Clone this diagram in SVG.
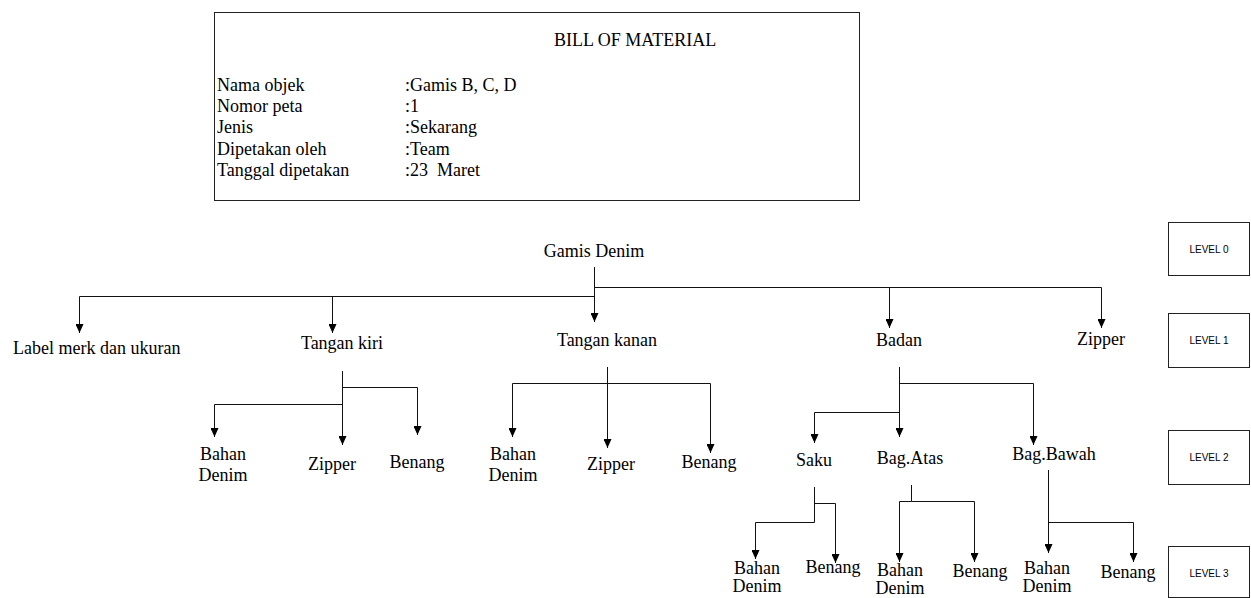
<svg xmlns="http://www.w3.org/2000/svg" width="1251" height="598" viewBox="0 0 1251 598">
<style>
text{font-family:"Liberation Serif","Times New Roman",serif;font-size:18px;fill:#000}
.c{text-anchor:middle}
.lv{font-family:"Liberation Sans",Arial,sans-serif;font-size:10px;text-anchor:middle}
.box{fill:#fff;stroke:#222;stroke-width:1}
.ln{fill:none;stroke:#111;stroke-width:1}
</style>
<defs>
<marker id="ah" markerUnits="userSpaceOnUse" markerWidth="8" markerHeight="9" refX="4" refY="9" orient="0" viewBox="0 0 8 9">
<path d="M0,0 L8,0 L4,9 z" fill="#000"/>
</marker>
</defs>
<rect width="1251" height="598" fill="#fff"/>

<g id="header">
<rect class="box" x="214.5" y="12.5" width="645" height="188"/>
<text x="554" y="46">BILL OF MATERIAL</text>
<text x="217" y="91">Nama objek</text>
<text x="405" y="91">:Gamis B, C, D</text>
<text x="217" y="112">Nomor peta</text>
<text x="405" y="112">:1</text>
<text x="217" y="133">Jenis</text>
<text x="405" y="133">:Sekarang</text>
<text x="217" y="155">Dipetakan oleh</text>
<text x="405" y="155">:Team</text>
<text x="217" y="176">Tanggal dipetakan</text>
<text x="405" y="176" xml:space="preserve">:23  Maret</text>
</g>

<g id="levels">
<g id="level0"><rect class="box" x="1168.5" y="222.5" width="81" height="53"/><text class="lv" x="1209" y="253">LEVEL 0</text></g>
<g id="level1"><rect class="box" x="1168.5" y="313.5" width="81" height="54"/><text class="lv" x="1209" y="344">LEVEL 1</text></g>
<g id="level2"><rect class="box" x="1168.5" y="430.5" width="81" height="54"/><text class="lv" x="1209" y="461">LEVEL 2</text></g>
<g id="level3"><rect class="box" x="1168.5" y="546.5" width="81" height="51"/><text class="lv" x="1209" y="577">LEVEL 3</text></g>
</g>

<g id="connectors">
<path class="ln" d="M594.5,267 V322" marker-end="url(#ah)"/>
<path class="ln" d="M594.5,296.5 H79.5 V333" marker-end="url(#ah)"/>
<path class="ln" d="M332.5,296.5 V333" marker-end="url(#ah)"/>
<path class="ln" d="M594.5,287.5 H1101.5 V328" marker-end="url(#ah)"/>
<path class="ln" d="M889.5,287.5 V328" marker-end="url(#ah)"/>

<path class="ln" d="M342.5,371 V445" marker-end="url(#ah)"/>
<path class="ln" d="M342.5,387.5 H417.5 V435" marker-end="url(#ah)"/>
<path class="ln" d="M342.5,404.5 H214.5 V437" marker-end="url(#ah)"/>

<path class="ln" d="M607.5,367 V448" marker-end="url(#ah)"/>
<path class="ln" d="M607.5,383.5 H512.5 V437" marker-end="url(#ah)"/>
<path class="ln" d="M607.5,383.5 H710.5 V453" marker-end="url(#ah)"/>

<path class="ln" d="M899.5,367 V437" marker-end="url(#ah)"/>
<path class="ln" d="M899.5,383.5 H1033.5 V445" marker-end="url(#ah)"/>
<path class="ln" d="M899.5,412.5 H814.5 V443" marker-end="url(#ah)"/>

<path class="ln" d="M814.5,487 V522.5 H755.5 V559" marker-end="url(#ah)"/>
<path class="ln" d="M814.5,503.5 H835.5 V563" marker-end="url(#ah)"/>

<path class="ln" d="M911.5,485 V501.5"/>
<path class="ln" d="M911.5,501.5 H899.5 V562" marker-end="url(#ah)"/>
<path class="ln" d="M911.5,501.5 H974.5 V562" marker-end="url(#ah)"/>

<path class="ln" d="M1048.5,470 V553" marker-end="url(#ah)"/>
<path class="ln" d="M1048.5,522.5 H1133.5 V562" marker-end="url(#ah)"/>
</g>

<g id="n-root"><text class="c" x="594" y="257">Gamis Denim</text></g>
<g id="n-label"><text x="13" y="354">Label merk dan ukuran</text></g>
<g id="n-tkiri"><text class="c" x="342" y="349">Tangan kiri</text></g>
<g id="n-tkanan"><text class="c" x="607" y="346">Tangan kanan</text></g>
<g id="n-badan"><text class="c" x="899" y="346">Badan</text></g>
<g id="n-zipper"><text class="c" x="1101" y="345">Zipper</text></g>

<g id="n-tkiri-bahan"><text class="c" x="223" y="460">Bahan</text><text class="c" x="223" y="481">Denim</text></g>
<g id="n-tkiri-zipper"><text class="c" x="332" y="470">Zipper</text></g>
<g id="n-tkiri-benang"><text class="c" x="417" y="468">Benang</text></g>

<g id="n-tkanan-bahan"><text class="c" x="513" y="460">Bahan</text><text class="c" x="513" y="481">Denim</text></g>
<g id="n-tkanan-zipper"><text class="c" x="611" y="470">Zipper</text></g>
<g id="n-tkanan-benang"><text class="c" x="709" y="468">Benang</text></g>

<g id="n-saku"><text class="c" x="814" y="466">Saku</text></g>
<g id="n-atas"><text class="c" x="910" y="464">Bag.Atas</text></g>
<g id="n-bawah"><text class="c" x="1054" y="460">Bag.Bawah</text></g>

<g id="n-saku-bahan"><text class="c" x="757" y="574">Bahan</text><text class="c" x="757" y="592">Denim</text></g>
<g id="n-saku-benang"><text class="c" x="833" y="573">Benang</text></g>
<g id="n-atas-bahan"><text class="c" x="900" y="576">Bahan</text><text class="c" x="900" y="594">Denim</text></g>
<g id="n-atas-benang"><text class="c" x="980" y="577">Benang</text></g>
<g id="n-bawah-bahan"><text class="c" x="1047" y="574">Bahan</text><text class="c" x="1047" y="592">Denim</text></g>
<g id="n-bawah-benang"><text class="c" x="1128" y="578">Benang</text></g>
</svg>
